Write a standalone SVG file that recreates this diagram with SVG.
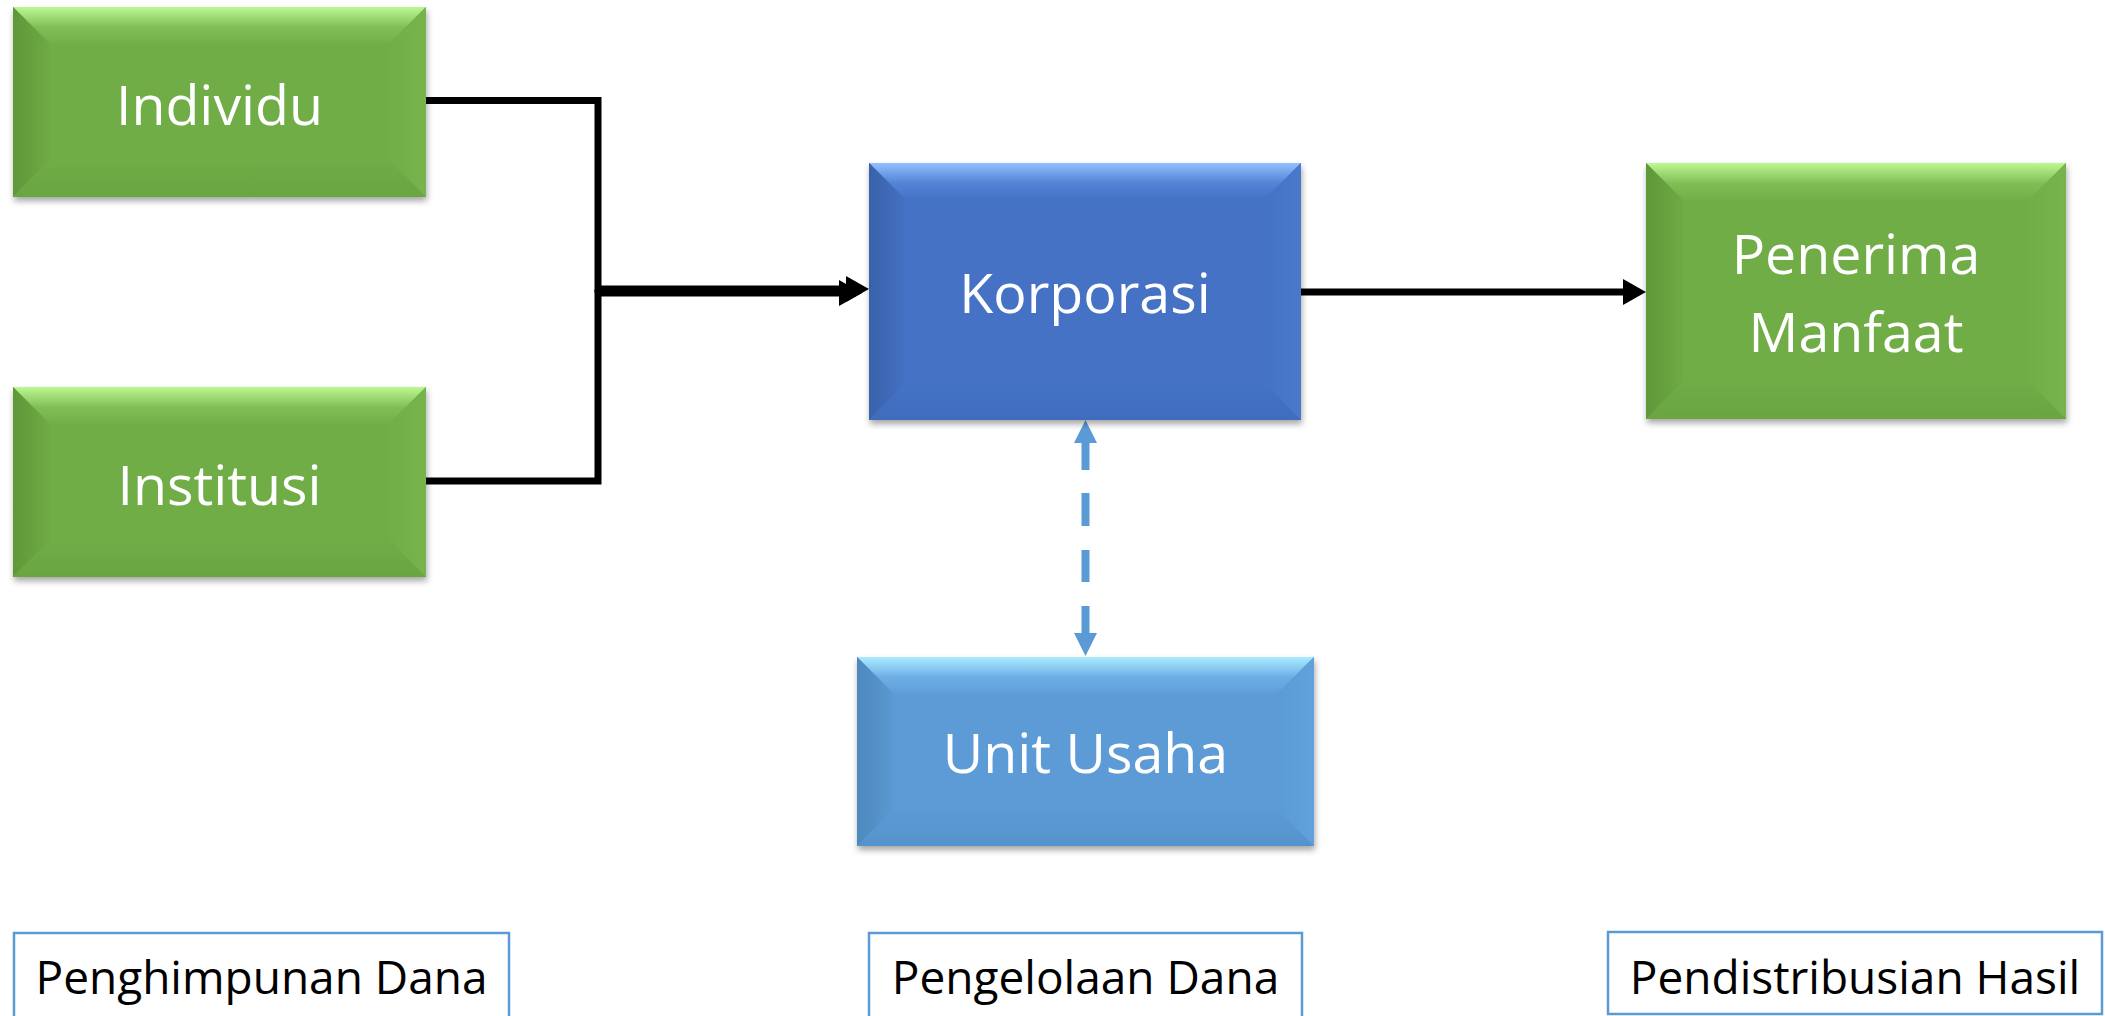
<svg xmlns="http://www.w3.org/2000/svg" width="2105" height="1016" viewBox="0 0 2105 1016">
<style>
.node-text{font-family:"Open Sans","Liberation Sans",sans-serif;font-size:55.5px;fill:#fff;text-anchor:middle}
.lbl-text{font-family:"Open Sans","Liberation Sans",sans-serif;font-size:46px;fill:#000;text-anchor:middle}
.lbl-box{fill:#fff;stroke:#5B9BD5;stroke-width:2.5}
.conn{fill:none;stroke:#000;stroke-width:7}
.dash{fill:none;stroke:#5B9BD5;stroke-width:8;stroke-dasharray:27 23 33 24 32 24 27}
.g-base{fill:#70AD47}
.g-top{fill:url(#gTop)}
.g-left{fill:url(#gLeft)}
.g-right{fill:url(#gRight)}
.g-bot{fill:url(#gBot)}
.k-base{fill:#4472C4}
.k-top{fill:url(#kTop)}
.k-left{fill:url(#kLeft)}
.k-right{fill:url(#kRight)}
.k-bot{fill:url(#kBot)}
.u-base{fill:#5B9BD5}
.u-top{fill:url(#uTop)}
.u-left{fill:url(#uLeft)}
.u-right{fill:url(#uRight)}
.u-bot{fill:url(#uBot)}
</style>
<defs>
<filter id="shadow" x="-10%" y="-10%" width="120%" height="130%">
<feDropShadow dx="1" dy="4" stdDeviation="3" flood-color="#000" flood-opacity="0.35"/>
</filter>
<linearGradient id="gTop" x1="0" y1="0" x2="0" y2="1"><stop offset="0" stop-color="#BCF893"/><stop offset="0.55" stop-color="#80BE55"/><stop offset="1" stop-color="#72AF49"/></linearGradient>
<linearGradient id="gLeft" x1="0" y1="0" x2="1" y2="0"><stop offset="0" stop-color="#5E9839"/><stop offset="1" stop-color="#6EAA45"/></linearGradient>
<linearGradient id="gRight" x1="0" y1="0" x2="1" y2="0"><stop offset="0" stop-color="#71AE48"/><stop offset="1" stop-color="#77B44D"/></linearGradient>
<linearGradient id="gBot" x1="0" y1="0" x2="0" y2="1"><stop offset="0" stop-color="#70AD47"/><stop offset="1" stop-color="#69A541"/></linearGradient>
<linearGradient id="kTop" x1="0" y1="0" x2="0" y2="1"><stop offset="0" stop-color="#93C0FF"/><stop offset="0.55" stop-color="#5585D6"/><stop offset="1" stop-color="#4674C6"/></linearGradient>
<linearGradient id="kLeft" x1="0" y1="0" x2="1" y2="0"><stop offset="0" stop-color="#3A62AA"/><stop offset="1" stop-color="#4370C1"/></linearGradient>
<linearGradient id="kRight" x1="0" y1="0" x2="1" y2="0"><stop offset="0" stop-color="#4472C4"/><stop offset="1" stop-color="#4A79CB"/></linearGradient>
<linearGradient id="kBot" x1="0" y1="0" x2="0" y2="1"><stop offset="0" stop-color="#4472C4"/><stop offset="1" stop-color="#3F6CBD"/></linearGradient>
<linearGradient id="uTop" x1="0" y1="0" x2="0" y2="1"><stop offset="0" stop-color="#ABEBFF"/><stop offset="0.55" stop-color="#6DAEE6"/><stop offset="1" stop-color="#5E9ED8"/></linearGradient>
<linearGradient id="uLeft" x1="0" y1="0" x2="1" y2="0"><stop offset="0" stop-color="#4E88BD"/><stop offset="1" stop-color="#5A99D2"/></linearGradient>
<linearGradient id="uRight" x1="0" y1="0" x2="1" y2="0"><stop offset="0" stop-color="#5B9BD5"/><stop offset="1" stop-color="#62A2DC"/></linearGradient>
<linearGradient id="uBot" x1="0" y1="0" x2="0" y2="1"><stop offset="0" stop-color="#5B9BD5"/><stop offset="1" stop-color="#5593CC"/></linearGradient>
<marker id="arrK" markerUnits="userSpaceOnUse" markerWidth="24" markerHeight="26" refX="0" refY="13" orient="auto" overflow="visible">
<path d="M0,0 L23,13 L0,26 z" fill="#000"/>
</marker>
<marker id="arrB" markerUnits="userSpaceOnUse" markerWidth="24" markerHeight="24" refX="0" refY="11.5" orient="auto-start-reverse" overflow="visible">
<path d="M0,0 L23,11.5 L0,23 z" fill="#5B9BD5"/>
</marker>
</defs>
<rect x="0" y="0" width="2105" height="1016" fill="#fff"/>

<g id="connectors">
<path class="conn" d="M419,100.5 H598 V289 H846" marker-end="url(#arrK)"/>
<path class="conn" d="M426,481 H598 V293 H839" marker-end="url(#arrK)"/>
<path class="conn" d="M1301,292 H1623" marker-end="url(#arrK)"/>
<path class="dash" d="M1085.5,443 V633" marker-start="url(#arrB)" marker-end="url(#arrB)"/>
</g>

<g id="individu">
<rect class="g-base" x="13" y="7" width="413" height="190" filter="url(#shadow)"/>
<polygon class="g-top" points="13,7 426,7 389,44 50,44"/>
<polygon class="g-left" points="13,7 50,44 50,160 13,197"/>
<polygon class="g-right" points="426,7 426,197 389,160 389,44"/>
<polygon class="g-bot" points="13,197 50,160 389,160 426,197"/>
<text class="node-text" x="219.5" y="125">Individu</text>
</g>

<g id="institusi">
<rect class="g-base" x="13" y="387" width="413" height="190" filter="url(#shadow)"/>
<polygon class="g-top" points="13,387 426,387 389,424 50,424"/>
<polygon class="g-left" points="13,387 50,424 50,540 13,577"/>
<polygon class="g-right" points="426,387 426,577 389,540 389,424"/>
<polygon class="g-bot" points="13,577 50,540 389,540 426,577"/>
<text class="node-text" x="219.5" y="505">Institusi</text>
</g>

<g id="korporasi">
<rect class="k-base" x="869" y="163" width="432" height="257" filter="url(#shadow)"/>
<polygon class="k-top" points="869,163 1301,163 1266,198 904,198"/>
<polygon class="k-left" points="869,163 904,198 904,385 869,420"/>
<polygon class="k-right" points="1301,163 1301,420 1266,385 1266,198"/>
<polygon class="k-bot" points="869,420 904,385 1266,385 1301,420"/>
<text class="node-text" x="1085" y="313">Korporasi</text>
</g>

<g id="penerima-manfaat">
<rect class="g-base" x="1646" y="163" width="420" height="256" filter="url(#shadow)"/>
<polygon class="g-top" points="1646,163 2066,163 2029,200 1683,200"/>
<polygon class="g-left" points="1646,163 1683,200 1683,382 1646,419"/>
<polygon class="g-right" points="2066,163 2066,419 2029,382 2029,200"/>
<polygon class="g-bot" points="1646,419 1683,382 2029,382 2066,419"/>
<text class="node-text" x="1856" y="274">Penerima</text>
<text class="node-text" x="1856" y="352">Manfaat</text>
</g>

<g id="unit-usaha">
<rect class="u-base" x="857" y="657" width="457" height="189" filter="url(#shadow)"/>
<polygon class="u-top" points="857,657 1314,657 1277,694 894,694"/>
<polygon class="u-left" points="857,657 894,694 894,809 857,846"/>
<polygon class="u-right" points="1314,657 1314,846 1277,809 1277,694"/>
<polygon class="u-bot" points="857,846 894,809 1277,809 1314,846"/>
<text class="node-text" x="1085.5" y="773">Unit Usaha</text>
</g>

<g id="label-penghimpunan">
<rect class="lbl-box" x="14" y="933" width="495" height="100"/>
<text class="lbl-text" x="261.5" y="994">Penghimpunan Dana</text>
</g>

<g id="label-pengelolaan">
<rect class="lbl-box" x="869" y="933" width="433" height="100"/>
<text class="lbl-text" x="1085.5" y="994">Pengelolaan Dana</text>
</g>

<g id="label-pendistribusian">
<rect class="lbl-box" x="1608" y="932" width="494" height="82"/>
<text class="lbl-text" x="1855" y="994">Pendistribusian Hasil</text>
</g>
</svg>
